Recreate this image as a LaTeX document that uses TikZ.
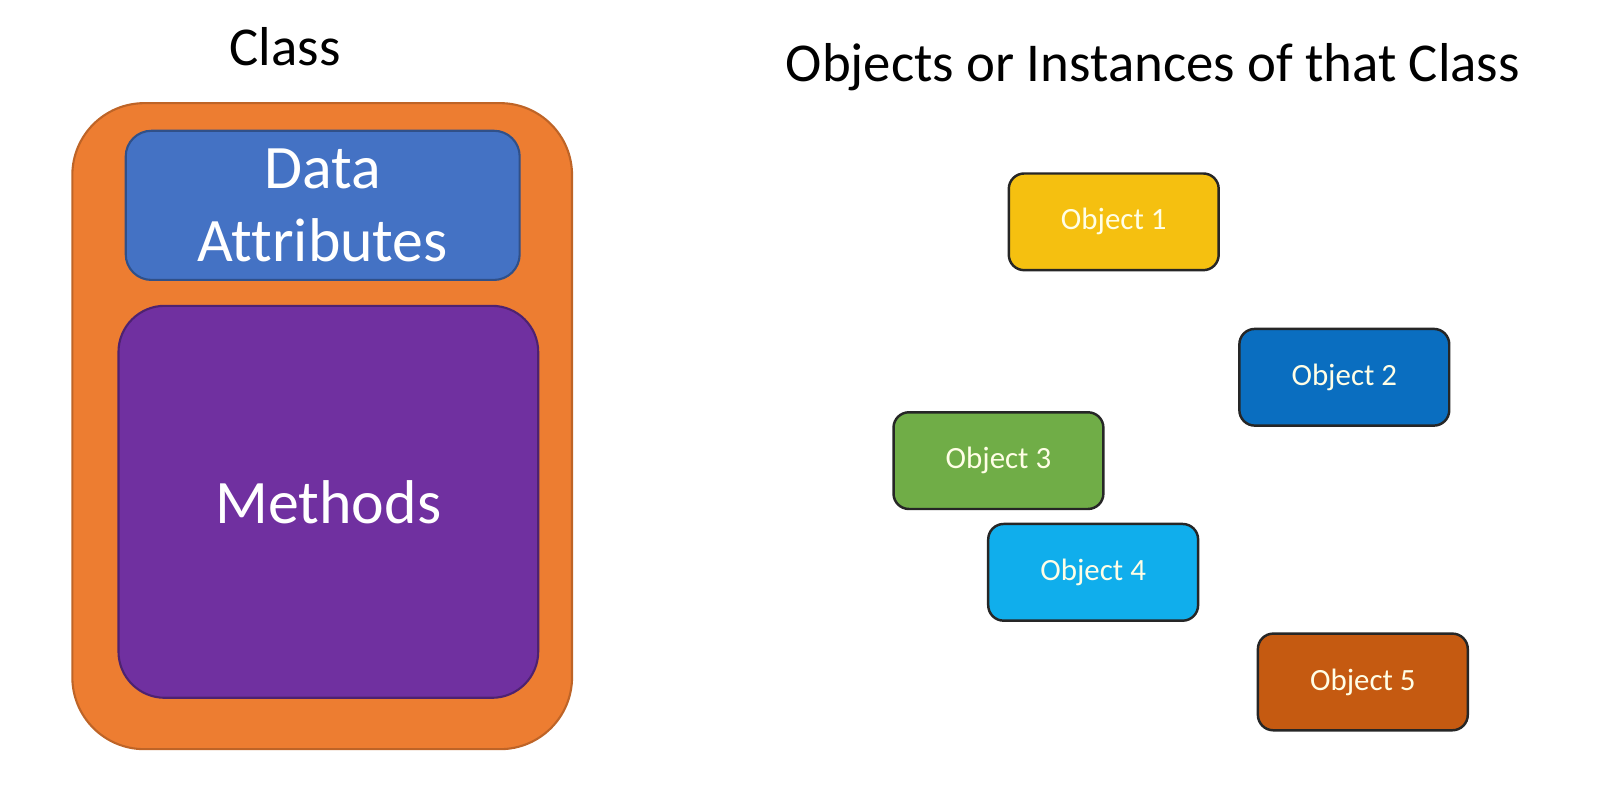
\documentclass[tikz,border=0pt]{standalone}
\usepackage{fontspec}
\setmainfont{Carlito}[Ligatures=CommonOff]
\usepackage{tikz}
\definecolor{classorange}{HTML}{ED7D31}
\definecolor{dataBlue}{HTML}{4472C4}
\definecolor{methodPurple}{HTML}{7030A0}
\definecolor{objYellow}{HTML}{F5C010}
\definecolor{objBlue}{HTML}{0A6EC0}
\definecolor{objGreen}{HTML}{70AD47}
\definecolor{objCyan}{HTML}{10AEEC}
\definecolor{objBrown}{HTML}{C55A11}

\begin{document}
\begin{tikzpicture}[%
x=0.010293cm, y=-0.010293cm,
part/.style={draw, line width=0.6pt, outer sep=0pt, inner sep=0pt, text=white, align=center,
    font=\fontsize{17.6}{20.9}\selectfont},
object/.style={draw=black!85, line width=0.7pt, rounded corners=0.154cm, outer sep=0pt,
    minimum width=2.10cm, minimum height=0.9675cm, text=white!90!yellow, font=\fontsize{8.8}{10.5}\selectfont},
heading/.style={font=\fontsize{15.6}{18}\selectfont}]
\useasboundingbox (0,0) rectangle (1568,761.7);
% the class
\node[heading] (classlabel) at (277,45) {Class};
\node[draw=classorange!80!black, fill=classorange, line width=0.6pt, rounded corners=0.72cm,
    minimum width=5.00cm, minimum height=6.464cm, outer sep=0pt] (classbox) at (313,414) {};
\node[part, fill=dataBlue, draw=dataBlue!70!black, rounded corners=0.257cm,
    minimum width=3.942cm, minimum height=1.4925cm] (data) at (313.5,199.5) {Data\\Attributes};
\node[part, fill=methodPurple, draw=methodPurple!70!black, rounded corners=0.463cm,
    minimum width=4.20cm, minimum height=3.922cm] (methods) at (319,487.5) {Methods};
% the objects
\node[heading] (objlabel) at (1120,65) {Objects or Instances of that Class};
\node[object, fill=objYellow] (obj1) at (1082,215.5) {Object 1};
\node[object, fill=objBlue] (obj2) at (1306,366.5) {Object 2};
\node[object, fill=objGreen] (obj3) at (970,447.5) {Object 3};
\node[object, fill=objCyan] (obj4) at (1062,556) {Object 4};
\node[object, fill=objBrown] (obj5) at (1324,662.5) {Object 5};
\end{tikzpicture}
\end{document}
